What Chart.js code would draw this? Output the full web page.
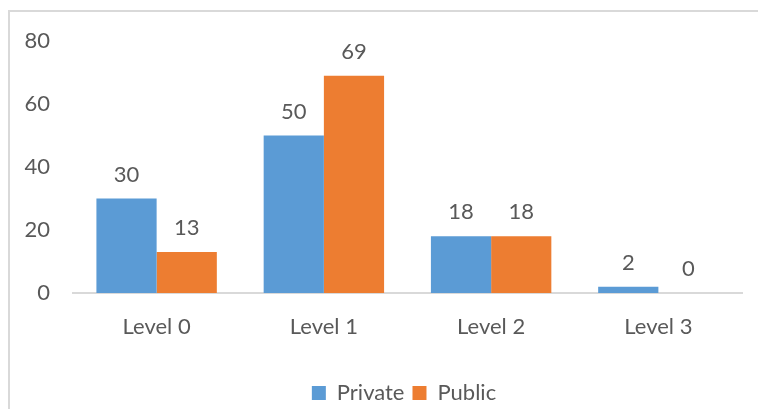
<!DOCTYPE html>
<html>
<head>
<meta charset="utf-8">
<script src="https://cdn.jsdelivr.net/npm/chart.js@4.4.0/dist/chart.umd.min.js"></script>
<style>
  html, body { margin: 0; padding: 0; background: #fff; overflow: hidden; }
  #frame { position: absolute; left: 8px; top: 10px; width: 800px; height: 450px; border: 2px solid #d9d9d9; box-sizing: border-box; }
  #wrap { position: absolute; left: 0; top: 0; width: 758px; height: 409px; }
</style>
</head>
<body>
<div id="frame"></div>
<div id="wrap"><canvas id="chart" width="758" height="409"></canvas></div>
<script>
// Données du graphique
const levels = ['Level 0', 'Level 1', 'Level 2', 'Level 3'];
const privateValues = [30, 50, 18, 2];
const publicValues = [13, 69, 18, 0];
const yTicks = [0, 20, 40, 60, 80];

const textColor = '#595959';
const fontFamily = "Lato, 'Liberation Sans', sans-serif";
const fontSize = 22;

// Étiquettes de valeurs au-dessus des barres
const valueLabels = {
    id: 'valueLabels',
    afterDatasetsDraw(chart) {
        const ctx = chart.ctx;
        ctx.save();
        ctx.fillStyle = textColor;
        ctx.font = fontSize + 'px ' + fontFamily;
        ctx.textAlign = 'center';
        ctx.textBaseline = 'middle';
        chart.data.datasets.forEach((ds, i) => {
            chart.getDatasetMeta(i).data.forEach((bar, j) => {
                ctx.fillText(String(ds.data[j]), bar.x, bar.y - 24);
            });
        });
        ctx.restore();
    }
};

// Centrer la légende sous la zone du graphique (comme Excel)
const legendShift = {
    id: 'legendShift',
    afterLayout(chart) {
        const lg = chart.legend;
        if (!lg) return;
        lg.left = 66;
        lg.right = chart.chartArea.right;
        lg.width = lg.right - lg.left;
    }
};

new Chart(document.getElementById('chart').getContext('2d'), {
    type: 'bar',
    data: {
        labels: levels,
        datasets: [
            { label: 'Private', data: privateValues, backgroundColor: '#5B9BD5' },
            { label: 'Public', data: publicValues, backgroundColor: '#ED7D31' }
        ]
    },
    options: {
        responsive: false,
        animation: false,
        layout: { padding: { left: 0, right: 16, top: 41, bottom: -5 } },
        datasets: { bar: { categoryPercentage: 0.72, barPercentage: 1 } },
        plugins: {
            legend: {
                position: 'bottom',
                labels: {
                    boxWidth: 14,
                    boxHeight: 14,
                    padding: 8,
                    color: textColor,
                    font: { size: fontSize, family: fontFamily }
                }
            },
            tooltip: { enabled: false }
        },
        scales: {
            x: {
                grid: { display: false, drawTicks: false },
                border: { display: true, color: '#d9d9d9', width: 2 },
                ticks: { color: textColor, padding: 21, font: { size: fontSize, family: fontFamily } },
                afterFit: (scale) => { scale.height = 81; }
            },
            y: {
                min: 0,
                max: 80,
                afterBuildTicks: (scale) => { scale.ticks = yTicks.map(v => ({ value: v })); },
                grid: { display: false, drawTicks: false },
                border: { display: false },
                ticks: { color: textColor, padding: 23, font: { size: fontSize, family: fontFamily } },
                afterFit: (scale) => { scale.width = 73; }
            }
        }
    },
    plugins: [valueLabels, legendShift]
});
</script>
</body>
</html>
